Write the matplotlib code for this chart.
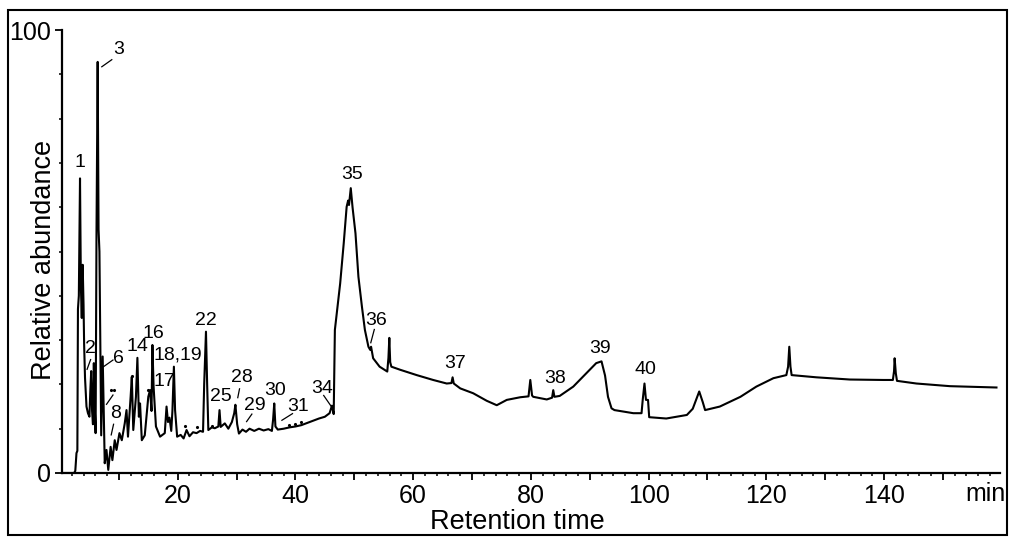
import matplotlib
matplotlib.use("Agg")
import matplotlib.pyplot as plt
from matplotlib.patches import Rectangle

plt.rcParams['font.family'] = ['Liberation Sans', 'DejaVu Sans']

# chromatogram trace (min, %)
rt = [0.3, 2.4, 2.6, 2.8, 2.95, 3.05, 3.2, 3.4, 3.55, 3.7, 3.85, 4.0, 4.1, 4.25, 4.5,
      4.75, 5.0, 5.15, 5.3, 5.45, 5.6, 5.75, 5.9, 6.05, 6.2, 6.4, 6.55, 6.7, 6.85, 7.0,
      7.25, 7.45, 7.6, 7.9, 8.2, 8.6, 8.9, 9.3, 9.6, 10.1, 10.5, 11.0, 11.3, 11.55, 12.0,
      12.2, 12.45, 12.9, 13.15, 13.4, 13.6, 13.9, 14.4, 15.0, 15.3, 15.55, 15.7, 15.9, 16.3,
      17.0, 17.8, 18.1, 18.35, 18.6, 18.9, 19.1, 19.35, 19.55, 19.9, 20.5, 21.0, 21.5, 22.0,
      22.6, 23.2, 23.8, 24.3, 24.5, 24.8, 25.0, 25.2, 25.8, 26.3, 26.9, 27.1, 27.3, 28.0,
      28.6, 29.2, 29.6, 29.8, 30.1, 30.4, 31.0, 31.6, 32.2, 33.0, 33.8, 34.6, 35.4, 36.0,
      36.2, 36.4, 36.6, 37.0, 38.0, 39.0, 40.0, 41.0, 42.0, 43.0, 44.0, 45.0, 45.8, 46.2,
      46.5, 46.7, 47.6, 48.2, 48.7, 48.95, 49.1, 49.4, 49.7, 50.2, 50.7, 51.3, 51.8, 52.4,
      52.7, 52.85, 53.2, 54.3, 55.6, 55.8, 55.95, 56.1, 56.3, 57.8, 60.6, 63.4, 65.7, 66.5,
      66.7, 66.9, 68.0, 70.2, 72.5, 74.2, 75.9, 78.2, 79.6, 79.9, 80.2, 80.4, 82.7, 83.6,
      83.8, 84.0, 84.9, 87.2, 89.4, 91.1, 92.0, 92.6, 93.1, 93.7, 94.2, 95.1, 97.4, 98.8,
      99.0, 99.3, 99.55, 99.9, 100.1, 103.0, 106.5, 107.5, 108.6, 109.2, 109.6, 112.1, 115.6,
      118.3, 121.2, 123.4, 123.7, 123.9, 124.1, 124.3, 128.5, 134.2, 139.9, 141.5, 141.7,
      141.8, 142.0, 142.2, 145.5, 151.2, 159.1]
abund = [0, 0, 0.5, 4.5, 5, 37, 40, 66.5, 42, 35, 47, 38, 29, 21.5, 15,
         13.5, 12.7, 18.5, 23, 14, 11, 24.8, 15, 9, 54, 92.8, 55, 50, 30, 8.5,
         26.3, 12, 2.2, 5.2, 0.7, 5.9, 2.9, 7.4, 5.2, 9, 7.4, 11.2, 14.2, 8.2, 17.2,
         21.7, 9.7, 17.2, 26, 12.7, 15.7, 7.4, 8.5, 17.2, 18.7, 14, 28.9, 19.5, 10.5,
         8.2, 9, 15, 11.5, 12.5, 9.5, 14, 24, 14.2, 8.2, 8.6, 7.8, 9.7, 8.3,
         9.2, 9.0, 9.5, 9.3, 20.2, 31.9, 20, 9.7, 10.3, 10.1, 10.5, 14.2, 10.4, 11.2,
         10.0, 11.5, 13.5, 15.4, 11.0, 8.9, 9.8, 9.3, 10.0, 9.5, 10.0, 9.6, 9.9, 9.5,
         12, 15.7, 10.5, 9.8, 10.0, 10.3, 10.5, 10.8, 11.3, 11.8, 12.3, 12.7, 13.5, 15.2,
         13.3, 32.3, 42.8, 51.8, 60.1, 61.5, 60.5, 64.3, 60, 54.1, 44.3, 37.5, 32.3, 28.5,
         27.8, 28.5, 25.9, 24.0, 22.9, 26, 30.5, 25, 24, 23.3, 22.1, 21.0, 20.2, 20.3,
         21.6, 20.2, 19.1, 18.0, 16.3, 15.3, 16.5, 17.1, 17.3, 21.0, 17.5, 17.2, 16.6, 17.0,
         18.7, 17.2, 17.4, 19.5, 22.5, 24.8, 25.2, 22.0, 17.2, 14.6, 14.2, 14.0, 13.5, 13.5,
         16.5, 20.2, 16.5, 16.5, 12.6, 12.3, 13.1, 14.5, 18.4, 16, 14.2, 15.0, 17.2,
         19.5, 21.4, 22.1, 24, 28.5, 24, 22.1, 21.6, 21.1, 21.0, 21.0, 23,
         25.9, 22.5, 20.8, 20.2, 19.6, 19.3]

# sparse dotted marks over the early part of the trace
dot_t = [8.6, 9.2, 12.3, 15.0, 21.2, 23.2, 25.9, 38.9, 39.9, 41.0]
dot_v = [18.7, 18.7, 21.9, 18.7, 10.7, 10.3, 10.6, 10.9, 11.1, 11.4]

# peak numbers and where they are written
peak_ids = ['1', '3', '2', '6', '8', '14', '16', '17', '18,19', '22', '25', '28', '29',
            '30', '31', '34', '35', '36', '37', '38', '39', '40']
label_t = [3.4, 9.9, 5.1, 9.9, 9.5, 13.2, 15.9, 17.7, 20.1, 24.7, 27.3, 30.9, 33.1,
           36.5, 40.5, 44.5, 49.6, 53.7, 67.1, 84.1, 91.7, 99.4]
label_v = [70, 95.5, 28.2, 25.9, 13.5, 28.5, 31.5, 20.6, 26.6, 34.5, 17.2, 21.6, 15.3,
           18.7, 15.0, 19.1, 67.3, 34.5, 24.8, 21.4, 28.0, 23.3]

# short leader strokes (t0, v0, t1, v1)
leaders = [(7.1, 91.7, 8.8, 93.3), (4.6, 23.4, 5.2, 25.6), (7.4, 24.0, 9.0, 25.5),
           (8.7, 8.6, 9.1, 11.0), (7.9, 15.5, 9.0, 17.6), (30.2, 17.0, 30.5, 19.0),
           (31.7, 11.6, 32.6, 13.3), (37.7, 11.9, 39.5, 13.4), (44.8, 17.5, 46.1, 15.0),
           (52.8, 29.4, 53.4, 32.4)]

fig = plt.figure(figsize=(10.1, 5.37), dpi=100)
ax = fig.add_axes([62 / 1010, 64 / 537, 938 / 1010, 443 / 537])

ax.plot(rt, abund, color='black', lw=1.5)
ax.plot(dot_t, dot_v, ls='none', marker='.', ms=2.5, color='black')
for t0, v0, t1, v1 in leaders:
    ax.plot([t0, t1], [v0, v1], color='black', lw=0.9)
for s, t, v in zip(peak_ids, label_t, label_v):
    ax.text(t, v, s, ha='center', va='center', fontsize=14)

ax.set_xlim(0.34, 159.7)
ax.set_ylim(0, 100)
ax.spines['top'].set_visible(False)
ax.spines['right'].set_visible(False)
ax.spines['left'].set_linewidth(1.6)
ax.spines['bottom'].set_linewidth(1.6)

ax.set_xticks(range(10, 151, 10))
ax.set_xticklabels([str(v) if v % 20 == 0 and v < 150 else '' for v in range(10, 151, 10)])
ax.set_xticks(range(2, 160, 2), minor=True)
ax.set_yticks([0, 100])
ax.set_yticks(range(10, 100, 10), minor=True)
ax.tick_params(which='major', direction='out', length=5, width=1.3, labelsize=18, pad=3)
ax.tick_params(which='minor', direction='out', length=2.5, width=1.1)

ax.set_xlabel('Retention time', fontsize=19.5, va='center')
ax.xaxis.set_label_coords(0.486, -0.111)
ax.set_ylabel('Relative abundance', fontsize=19.5, va='center')
ax.yaxis.set_label_coords(-0.019, 0.481)
fig.text(985 / 1010, 1 - 494 / 537, 'min', ha='center', va='center', fontsize=18)

fig.add_artist(Rectangle((8 / 1010, 2 / 537), 999 / 1010, 525 / 537,
                         transform=fig.transFigure, fill=False, lw=1.5, color='black'))

fig.savefig('out.png', dpi=100)
